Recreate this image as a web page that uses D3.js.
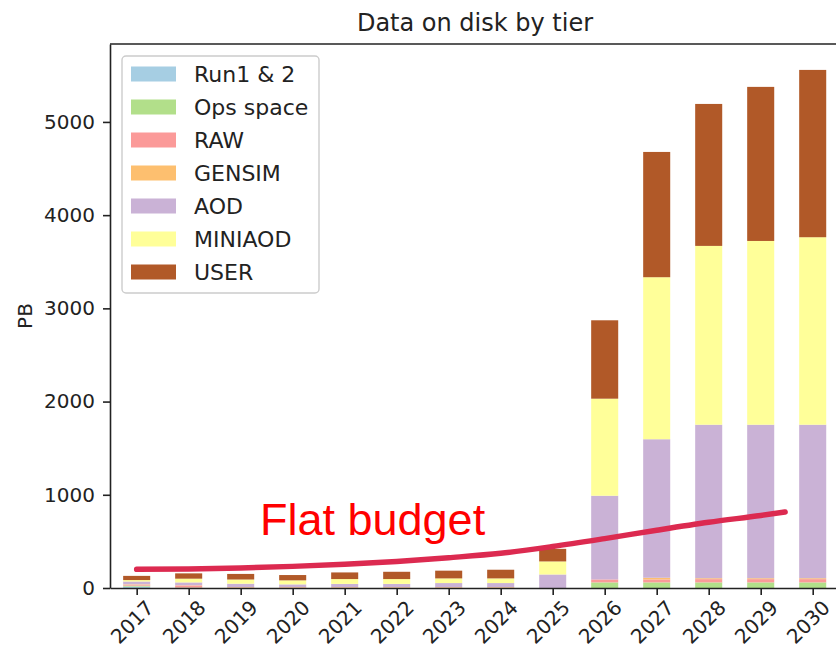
<!DOCTYPE html>
<html>
<head>
<meta charset="utf-8">
<script src="https://cdn.jsdelivr.net/npm/d3@7"></script>
<style>
body { margin: 0; background: #fff; }
svg { display: block; font-family: "DejaVu Sans", sans-serif; }
</style>
</head>
<body>
<svg id="canvas" width="836" height="650"></svg>
<script>
let years = ["2017", "2018", "2019", "2020", "2021", "2022", "2023", "2024", "2025", "2026", "2027", "2028", "2029", "2030"];
let tiers = ["Run1 & 2", "Ops space", "RAW", "GENSIM", "AOD", "MINIAOD", "USER"];
let colors = ["#a6cee3", "#b2df8a", "#fb9a99", "#fdbf6f", "#cab2d6", "#ffff99", "#b15928"];

// PB per tier and year
let run12    = [15, 0, 0, 0, 0, 0, 0, 0, 0, 0, 0, 0, 0, 0];
let opsSpace = [10, 5, 3, 3, 3, 3, 3, 3, 0, 60, 60, 60, 60, 60];
let raw      = [10, 22, 5, 5, 5, 5, 5, 5, 0, 32, 32, 35, 35, 35];
let gensim   = [5, 3, 3, 3, 3, 3, 3, 3, 0, 0, 18, 10, 10, 10];
let aod      = [30, 30, 35, 28, 33, 33, 42, 42, 145, 898, 1486, 1647, 1647, 1647];
let miniaod  = [15, 40, 45, 43, 52, 52, 50, 50, 140, 1041, 1738, 1918, 1971, 2011];
let user     = [45, 57, 60, 57, 71, 78, 83, 93, 135, 841, 1344, 1523, 1653, 1795];

let yTicks = [0, 1000, 2000, 3000, 4000, 5000];

// hand drawn "flat budget" curve
let budgetYears  = [2017, 2018, 2019, 2020, 2021, 2022, 2023, 2024, 2025, 2026, 2027, 2028, 2029, 2029.47];
let budgetValues = [200, 205, 215, 232, 255, 285, 325, 372, 445, 530, 620, 705, 778, 815];

let series = [run12, opsSpace, raw, gensim, aod, miniaod, user];

let table = years.map((yr, i) => {
    let row = { year: yr, idx: i };
    tiers.forEach((t, k) => { row[t] = series[k][i]; });
    return row;
});

let canvas = d3.select("#canvas");
let ink = "#222";

let x = d3.scaleLinear().domain([-0.513, 13.525]).range([110, 840]);
let y = d3.scaleLinear().domain([0, 5836]).range([588, 44]);

let stacked = d3.stack().keys(tiers)(table);

let barW = x(0.52) - x(0);

canvas.append("g")
    .selectAll("g")
    .data(stacked)
    .enter()
    .append("g")
    .attr("fill", (d, k) => colors[k])
    .selectAll("rect")
    .data((d) => d)
    .enter()
    .append("rect")
    .attr("x", (d) => x(d.data.idx) - barW / 2)
    .attr("width", barW)
    .attr("y", (d) => y(d[1]))
    .attr("height", (d) => y(d[0]) - y(d[1]));

// axes
let yAxis = canvas.append("g")
    .attr("transform", "translate(110,0)")
    .call(d3.axisLeft(y).tickValues(yTicks).tickFormat(d3.format("d")).tickSize(7).tickPadding(8).tickSizeOuter(0));

let xAxis = canvas.append("g")
    .attr("transform", "translate(0,588)")
    .call(d3.axisBottom(x).tickValues(d3.range(years.length)).tickFormat((i) => years[i]).tickSize(7).tickSizeOuter(0));

[yAxis, xAxis].forEach((ax) => {
    ax.selectAll("path, line").attr("stroke", ink).attr("stroke-width", 1.6);
    ax.selectAll("text").attr("fill", ink).style("font-size", "20px").style("font-family", "DejaVu Sans");
});

xAxis.selectAll("text")
    .attr("y", null)
    .attr("dy", null)
    .attr("text-anchor", "middle")
    .attr("dominant-baseline", "central")
    .attr("transform", "translate(-5,34) rotate(-45)");

// top spine
canvas.append("line")
    .attr("x1", 110).attr("x2", 840)
    .attr("y1", 44).attr("y2", 44)
    .attr("stroke", ink).attr("stroke-width", 1.6);

canvas.append("text")
    .attr("x", 475).attr("y", 31)
    .attr("text-anchor", "middle")
    .attr("fill", ink)
    .style("font-size", "24px")
    .text("Data on disk by tier");

canvas.append("text")
    .attr("transform", "translate(25,316) rotate(-90)")
    .attr("text-anchor", "middle")
    .attr("dominant-baseline", "central")
    .attr("fill", ink)
    .style("font-size", "20px")
    .text("PB");

// flat budget annotation
let budget = budgetYears.map((yr, i) => ({ year: yr, value: budgetValues[i] }));

canvas.append("path")
    .datum(budget)
    .attr("d", d3.line()
        .x((d) => x(d.year - 2017))
        .y((d) => y(d.value))
        .curve(d3.curveMonotoneX))
    .attr("fill", "none")
    .attr("stroke", "#dc2a50")
    .attr("stroke-width", 5.5)
    .attr("stroke-linecap", "round");

canvas.append("text")
    .attr("x", 260).attr("y", 535)
    .attr("fill", "#ff0000")
    .style("font-family", "'Liberation Sans', Arial, sans-serif")
    .style("font-size", "45px")
    .text("Flat budget");

// legend
let legend = canvas.append("g");

legend.append("rect")
    .attr("x", 122).attr("y", 56)
    .attr("width", 197).attr("height", 237)
    .attr("rx", 4)
    .attr("fill", "#fff").attr("fill-opacity", 0.8)
    .attr("stroke", "#ccc").attr("stroke-width", 1.4);

let entries = legend.selectAll("g.entry")
    .data(tiers)
    .enter()
    .append("g")
    .attr("class", "entry")
    .attr("transform", (d, i) => "translate(0," + (74 + 33 * i) + ")");

entries.append("rect")
    .attr("x", 131).attr("y", -7.5)
    .attr("width", 45).attr("height", 15)
    .attr("fill", (d, i) => colors[i]);

entries.append("text")
    .attr("x", 194).attr("y", 0)
    .attr("dominant-baseline", "central")
    .attr("fill", ink)
    .style("font-size", "22px")
    .text((d) => d);
</script>
</body>
</html>
